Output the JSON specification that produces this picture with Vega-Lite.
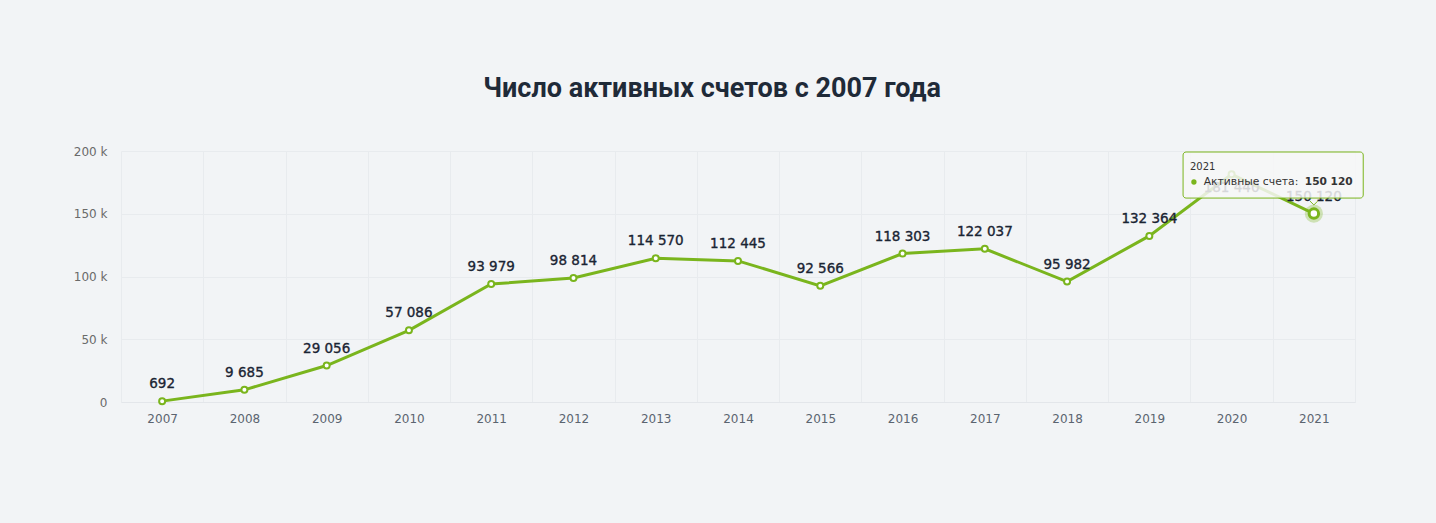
{
  "$schema": "https://vega.github.io/schema/vega-lite/v6.json",
  "autosize": {"type": "none"},
  "width": 1234,
  "height": 251,
  "padding": {"left": 121, "top": 151, "right": 81, "bottom": 121},
  "background": "#f2f4f6",
  "config": {
    "view": {"stroke": null},
    "locale": {"number": {"decimal": ",", "thousands": " ", "grouping": [3], "currency": ["", ""]}},
    "font": "DejaVu Sans"
  },
  "title": {
    "text": "Число активных счетов с 2007 года",
    "font": "Roboto",
    "fontSize": 27,
    "fontWeight": "bold",
    "color": "#1f2a38",
    "anchor": "start",
    "dx": 410,
    "baseline": "alphabetic",
    "offset": 21
  },
  "data": {
    "values": [
      {"year": "2007", "value": 692},
      {"year": "2008", "value": 9685},
      {"year": "2009", "value": 29056},
      {"year": "2010", "value": 57086},
      {"year": "2011", "value": 93979},
      {"year": "2012", "value": 98814},
      {"year": "2013", "value": 114570},
      {"year": "2014", "value": 112445},
      {"year": "2015", "value": 92566},
      {"year": "2016", "value": 118303},
      {"year": "2017", "value": 122037},
      {"year": "2018", "value": 95982},
      {"year": "2019", "value": 132364},
      {"year": "2020", "value": 181440},
      {"year": "2021", "value": 150120}
    ]
  },
  "encoding": {
    "x": {
      "field": "year",
      "type": "nominal",
      "sort": null,
      "scale": {"type": "band", "paddingInner": 0, "paddingOuter": 0},
      "axis": {
        "title": null,
        "labelAngle": 0,
        "labelFontSize": 12,
        "labelColor": "#5b6470",
        "labelPadding": 11,
        "ticks": false,
        "domainColor": "#e3e6ea",
        "grid": true,
        "gridColor": "#e8ebee",
        "tickBand": "extent"
      }
    },
    "y": {
      "field": "value",
      "type": "quantitative",
      "scale": {"domain": [0, 200000], "nice": false},
      "axis": {
        "title": null,
        "values": [0, 50000, 100000, 150000, 200000],
        "labelExpr": "datum.value == 0 ? '0' : (datum.value / 1000) + ' k'",
        "labelFontSize": 12,
        "labelColor": "#6a6a6a",
        "labelPadding": 14,
        "ticks": false,
        "domain": false,
        "gridColor": "#e8ebee"
      }
    }
  },
  "layer": [
    {"mark": {"type": "line", "color": "#7ab51d", "strokeWidth": 3}},
    {"mark": {"type": "point", "filled": true, "fill": "#ffffff", "stroke": "#7ab51d", "strokeWidth": 2, "size": 36, "opacity": 1}},
    {
      "transform": [{"filter": "datum.year != '2020'"}],
      "mark": {"type": "text", "dy": -17, "fontSize": 13.5, "color": "#1a2433", "stroke": "#1a2433", "strokeWidth": 0.35},
      "encoding": {"text": {"field": "value", "type": "quantitative", "format": ","}}
    },
    {
      "transform": [{"filter": "datum.year == '2020'"}],
      "mark": {"type": "text", "dy": 14, "fontSize": 13.5, "color": "#1a2433", "stroke": "#1a2433", "strokeWidth": 0.35},
      "encoding": {"text": {"field": "value", "type": "quantitative", "format": ","}}
    },
    {
      "transform": [{"filter": "datum.year == '2021'"}],
      "mark": {"type": "point", "filled": true, "color": "#7ab51d", "opacity": 0.3, "size": 330}
    },
    {
      "transform": [{"filter": "datum.year == '2021'"}],
      "mark": {"type": "point", "filled": true, "fill": "#ffffff", "stroke": "#7ab51d", "strokeWidth": 3, "size": 90, "opacity": 1}
    },
    {
      "transform": [{"filter": "datum.year == '2021'"}],
      "mark": {"type": "rect", "fill": "#f7f7f7", "fillOpacity": 0.85, "stroke": "#7ab51d", "strokeWidth": 1, "cornerRadius": 3},
      "encoding": {
        "x": {"datum": "2021", "bandPosition": -1.09},
        "x2": {"datum": "2021", "bandPosition": 1.1},
        "y": {"datum": 199200},
        "y2": {"datum": 162500}
      }
    },
    {
      "transform": [{"filter": "datum.year == '2021'"}],
      "mark": {"type": "point", "shape": "M-1,0L0,1L1,0Z", "filled": true, "fill": "#f7f7f7", "opacity": 1, "size": 60, "yOffset": 3},
      "encoding": {"y": {"datum": 162500}}
    },
    {
      "transform": [{"filter": "datum.year == '2021'"}],
      "mark": {"type": "point", "shape": "M-1,0L0,1L1,0", "filled": false, "stroke": "#7ab51d", "strokeWidth": 1, "opacity": 1, "size": 60, "yOffset": 3},
      "encoding": {"y": {"datum": 162500}}
    },
    {
      "transform": [{"filter": "datum.year == '2021'"}],
      "mark": {"type": "text", "align": "left", "baseline": "middle", "fontSize": 10, "color": "#333333"},
      "encoding": {
        "x": {"datum": "2021", "bandPosition": -1.006},
        "y": {"datum": 187300},
        "text": {"field": "year"}
      }
    },
    {
      "transform": [{"filter": "datum.year == '2021'"}],
      "mark": {"type": "point", "filled": true, "color": "#7ab51d", "opacity": 1, "size": 28},
      "encoding": {
        "x": {"datum": "2021", "bandPosition": -0.958},
        "y": {"datum": 175300}
      }
    },
    {
      "transform": [{"filter": "datum.year == '2021'"}],
      "mark": {"type": "text", "align": "left", "baseline": "middle", "fontSize": 10.8, "color": "#333333", "text": "Активные счета:"},
      "encoding": {
        "x": {"datum": "2021", "bandPosition": -0.84},
        "y": {"datum": 175300}
      }
    },
    {
      "transform": [{"filter": "datum.year == '2021'"}],
      "mark": {"type": "text", "align": "left", "baseline": "middle", "fontSize": 10.6, "fontWeight": "bold", "color": "#333333"},
      "encoding": {
        "x": {"datum": "2021", "bandPosition": 0.39},
        "y": {"datum": 175300},
        "text": {"field": "value", "type": "quantitative", "format": ","}
      }
    }
  ]
}
